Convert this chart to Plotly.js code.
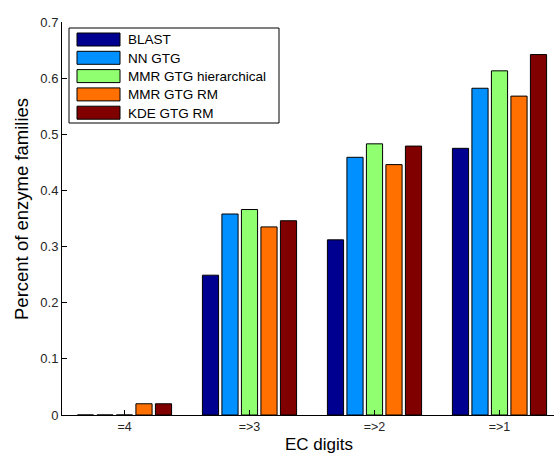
<!DOCTYPE html>
<html>
<head>
<meta charset="utf-8">
<script src="https://cdn.plot.ly/plotly-3.0.1.min.js"></script>
<style>html,body{margin:0;padding:0;background:#fff;}#chart{width:554px;height:457px;}</style>
</head>
<body>
<div id="chart"></div>
<script>
const categories = ["=4", "=>3", "=>2", "=>1"];
const seriesNames = ["BLAST", "NN GTG", "MMR GTG hierarchical", "MMR GTG RM", "KDE GTG RM"];
const blast = [0.0, 0.249, 0.312, 0.475];
const nnGtg = [0.0, 0.358, 0.459, 0.582];
const mmrHier = [0.0, 0.366, 0.483, 0.613];
const mmrRm = [0.02, 0.335, 0.446, 0.568];
const kdeRm = [0.02, 0.346, 0.479, 0.642];
const yTicks = [0, 0.1, 0.2, 0.3, 0.4, 0.5, 0.6, 0.7];
const xTitle = "EC digits";
const yTitle = "Percent of enzyme families";

const seriesValues = [blast, nnGtg, mmrHier, mmrRm, kdeRm];
const colors = ["#000090", "#0090ff", "#90ff70", "#ff7000", "#800000"];

const W = 554, H = 457;
const L = 62, R = 0, T = 22, B = 42;
const pw = W - L - R, ph = H - T - B;
const px = x => (x - L) / pw;
const py = y => (H - B - y) / ph;

const xPos = categories.map((c, i) => i + 1);

const traces = seriesValues.map((vals, i) => ({
  type: "bar",
  name: seriesNames[i],
  x: xPos,
  y: vals,
  marker: {color: colors[i], line: {color: "#000", width: 1}},
  showlegend: false,
  hoverinfo: "skip"
}));

const fam = "Liberation Sans, Arial, sans-serif";

// manual legend (wide swatches like the original)
const shapes = [];
const annotations = [];
const boxL = 69, boxT = 28, boxR = 279, boxB = 123;
shapes.push({type: "rect", xref: "paper", yref: "paper",
  x0: px(boxL), x1: px(boxR), y0: py(boxB), y1: py(boxT),
  line: {color: "#000", width: 1}, fillcolor: "#fff", layer: "above"});
seriesNames.forEach((n, i) => {
  const cy = 39.5 + i * 18.3;
  shapes.push({type: "rect", xref: "paper", yref: "paper",
    x0: px(77), x1: px(120), y0: py(cy + 6.5), y1: py(cy - 6.5),
    line: {color: "#000", width: 1}, fillcolor: colors[i], layer: "above"});
  annotations.push({xref: "paper", yref: "paper", x: px(126), y: py(cy + 0.5),
    xanchor: "left", yanchor: "middle", showarrow: false, text: n,
    font: {family: fam, size: 13.5, color: "#000"}});
});

// axis titles placed like the original
annotations.push({xref: "paper", yref: "paper", x: px(319), y: py(445),
  xanchor: "center", yanchor: "middle", showarrow: false, text: xTitle,
  font: {family: fam, size: 17, color: "#000"}});
annotations.push({xref: "paper", yref: "paper", x: px(21), y: py(209),
  xanchor: "center", yanchor: "middle", showarrow: false, text: yTitle, textangle: -90,
  font: {family: fam, size: 18.5, color: "#000"}});

const layout = {
  width: W, height: H,
  margin: {l: L, r: R, t: T, b: B, pad: 0},
  paper_bgcolor: "#fff", plot_bgcolor: "#fff",
  font: {family: fam, color: "#000"},
  barmode: "group",
  bargap: 0.22,
  bargroupgap: 0.17,
  showlegend: false,
  xaxis: {
    range: [0.5, 0.5 + pw / 125],
    tickvals: xPos, ticktext: categories,
    ticks: "inside", ticklen: 5, tickcolor: "#000", tickwidth: 1,
    showline: true, linecolor: "#000", linewidth: 1,
    showgrid: false, zeroline: false,
    tickfont: {family: fam, size: 12.5, color: "#262626"}
  },
  yaxis: {
    range: [0, 0.7],
    tickvals: yTicks, ticktext: yTicks.map(v => String(v)),
    ticks: "inside", ticklen: 5, tickcolor: "#000", tickwidth: 1,
    showline: true, linecolor: "#000", linewidth: 1,
    showgrid: false, zeroline: false,
    tickfont: {family: fam, size: 13, color: "#262626"}
  },
  shapes: shapes,
  annotations: annotations
};

Plotly.newPlot("chart", traces, layout, {staticPlot: true, displayModeBar: false});
</script>
</body>
</html>
